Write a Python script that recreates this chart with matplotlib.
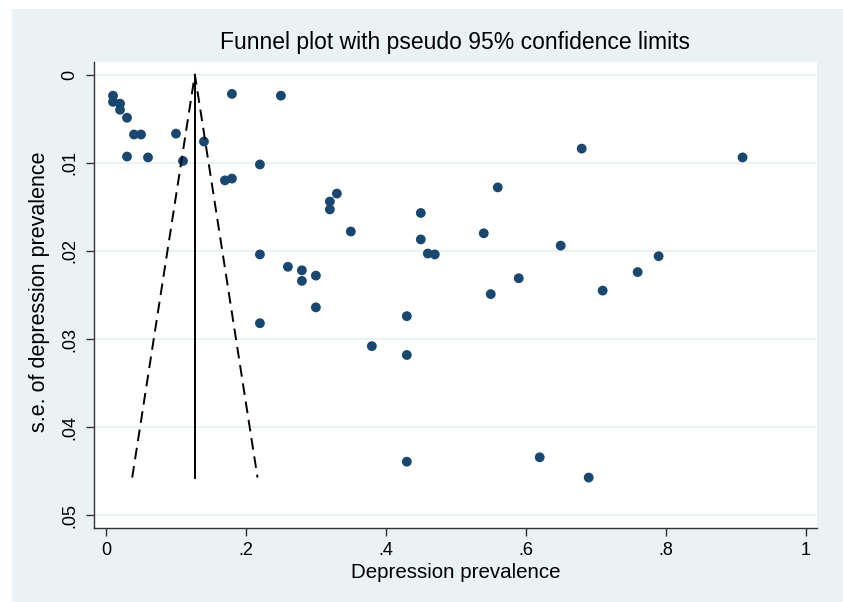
import matplotlib
matplotlib.use("Agg")
import matplotlib.pyplot as plt
from matplotlib.patches import Rectangle

# study-level estimates
prevalence = [0.01, 0.01, 0.02, 0.02, 0.03, 0.04, 0.05, 0.03, 0.06, 0.10,
              0.11, 0.14, 0.18, 0.25, 0.22, 0.17, 0.18, 0.33, 0.32, 0.32,
              0.35, 0.45, 0.45, 0.22, 0.26, 0.28, 0.28, 0.30, 0.30, 0.22,
              0.43, 0.38, 0.43, 0.43, 0.56, 0.46, 0.47, 0.54, 0.65, 0.59,
              0.55, 0.68, 0.91, 0.79, 0.76, 0.71, 0.62, 0.69]
std_err = [0.0024, 0.0031, 0.0033, 0.0040, 0.0049, 0.0068, 0.0068, 0.0093, 0.0094, 0.0067,
           0.0098, 0.0076, 0.0022, 0.0024, 0.0102, 0.0120, 0.0118, 0.0135, 0.0144, 0.0153,
           0.0178, 0.0157, 0.0187, 0.0204, 0.0218, 0.0222, 0.0234, 0.0228, 0.0264, 0.0282,
           0.0274, 0.0308, 0.0318, 0.0439, 0.0128, 0.0203, 0.0204, 0.0180, 0.0194, 0.0231,
           0.0249, 0.0084, 0.0094, 0.0206, 0.0224, 0.0245, 0.0434, 0.0457]
pooled = 0.127

x_ticks = [0, 0.2, 0.4, 0.6, 0.8, 1]
x_tick_labels = ["0", ".2", ".4", ".6", ".8", "1"]
y_ticks = [0, 0.01, 0.02, 0.03, 0.04, 0.05]
y_tick_labels = ["0", ".01", ".02", ".03", ".04", ".05"]

plt.rcParams['font.family'] = ['Liberation Sans', 'DejaVu Sans']

W, H = 843, 602
fig = plt.figure(figsize=(W / 100, H / 100), dpi=100)
fig.patch.set_facecolor('white')
fig.patches.append(Rectangle((12 / W, 0), 1, 593 / H, transform=fig.transFigure,
                             facecolor='#eaf2f3', edgecolor='none', zorder=-10))

ax = fig.add_axes([94 / W, 1 - 528 / H, (817 - 94) / W, (528 - 62) / H])
ax.set_facecolor('white')

# funnel: pooled estimate and pseudo 95% limits
se_max = max(std_err)
ax.plot([pooled, pooled], [0, se_max], color='black', lw=1.4, zorder=4)
ax.plot([pooled - 1.96 * se_max, pooled, pooled + 1.96 * se_max], [se_max, 0, se_max],
        color='black', lw=1.4, dashes=(6, 3.5), zorder=4)

ax.scatter(prevalence, std_err, s=50, color='#1a476f', edgecolors='none', zorder=3)

ax.set_xlim(-0.0172, 1.0164)
ax.set_ylim(0.05142, -0.00142)
ax.set_xticks(x_ticks)
ax.set_xticklabels(x_tick_labels)
ax.set_yticks(y_ticks)
ax.set_yticklabels(y_tick_labels, rotation=90, va='center')

ax.grid(axis='y', color='#eaf2f3', lw=1.5)
ax.set_axisbelow(True)

for side in ['top', 'right']:
    ax.spines[side].set_visible(False)
for side in ['left', 'bottom']:
    ax.spines[side].set_color('#333333')
    ax.spines[side].set_linewidth(1.0)

ax.tick_params(axis='both', colors='#333333', labelcolor='black', labelsize=13,
               length=6, width=1.0)
ax.tick_params(axis='x', pad=4)
ax.tick_params(axis='y', pad=5)

fig.text(455.5 / W, 1 - 43 / H, "Funnel plot with pseudo 95% confidence limits",
         fontsize=16.5, ha='center', va='center')
fig.text(455.5 / W, 1 - 573 / H, "Depression prevalence",
         fontsize=14.8, ha='center', va='center')
fig.text(40 / W, 1 - 292 / H, "s.e. of depression prevalence",
         fontsize=15.5, ha='center', va='center', rotation=90)

fig.savefig("out.png", dpi=100)
